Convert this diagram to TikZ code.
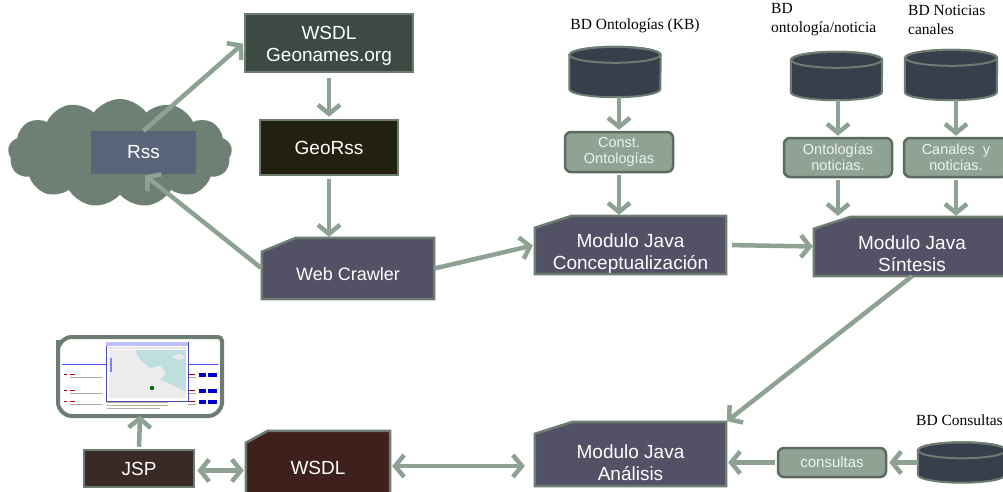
\documentclass[tikz,border=0pt]{standalone}
\usepackage{fontspec}
\setmainfont{Liberation Serif}
\setsansfont{Liberation Sans}
\usetikzlibrary{arrows.meta,shapes.symbols,backgrounds}

\definecolor{arrowc}{HTML}{8EA294}
\definecolor{edgec}{HTML}{6C7C70}
\definecolor{geoc}{HTML}{3D4A44}
\definecolor{georssc}{HTML}{22200F}
\definecolor{rssc}{HTML}{5A6479}
\definecolor{cloudc}{HTML}{6E7F74}
\definecolor{modc}{HTML}{535166}
\definecolor{dbc}{HTML}{363F4B}
\definecolor{procc}{HTML}{8FA394}
\definecolor{procedge}{HTML}{5C6B60}
\definecolor{jspc}{HTML}{3A2A26}
\definecolor{wsdlc}{HTML}{3E211D}
\definecolor{proctext}{HTML}{EEF2EE}

\tikzset{
  boxtext/.style={font=\sffamily\fontsize{19}{22}\selectfont, text=white, align=center},
  plainbox/.style={boxtext, rectangle, draw=edgec, line width=2.5pt, inner sep=0pt},
  modbox/.style={boxtext, rectangle, inner sep=0pt, font=\sffamily\fontsize{19}{22}\selectfont},
  procbox/.style={rectangle, rounded corners=6pt, fill=procc, draw=procedge, line width=2.5pt,
    text=proctext, font=\sffamily\fontsize{14.5}{16}\selectfont, align=center, inner sep=0pt},
  dbase/.style={rectangle, inner sep=0pt},
  dblabel/.style={font=\fontsize{15.5}{19}\selectfont, text=black, align=left, inner sep=0pt},
  arr/.style={draw=arrowc, line width=4.5pt, -{Straight Barb[length=9pt,width=22pt]}},
  darr/.style={draw=arrowc, line width=4.5pt, {Straight Barb[length=9pt,width=22pt]}-{Straight Barb[length=9pt,width=22pt]}},
}

% centred lines moved by #1 while the node keeps their natural size
\newcommand{\shifted}[2]{\raisebox{#1}[\height][\depth]{\begin{tabular}{@{}c@{}}#2\end{tabular}}}

% chamfered module outline drawn behind a named node
\newcommand{\modshape}[4]{% node, fill, dx, dy
  \begin{scope}[on background layer]
    \fill[#2, draw=edgec, line width=2.5pt]
      ([yshift=-#4 pt]#1.north west) -- ([xshift=#3 pt]#1.north west) -- (#1.north east)
      -- (#1.south east) -- (#1.south west) -- cycle;
  \end{scope}}

% database drum drawn behind a named node: node, half width
\newcommand{\drum}[2]{%
  \begin{scope}[on background layer]
    \filldraw[fill=dbc, draw=edgec, line width=2pt]
      ([yshift=-8pt]#1.north west) -- ([yshift=8pt]#1.south west)
      arc[start angle=180, end angle=0, x radius=#2, y radius=8]
      -- ([yshift=-8pt]#1.north east)
      arc[start angle=0, end angle=-180, x radius=#2, y radius=8] -- cycle;
    \draw[draw=edgec, line width=2pt] ([yshift=-8pt]#1.north) ellipse[x radius=#2, y radius=8];
  \end{scope}}

\begin{document}
\begin{tikzpicture}[x=1pt,y=-1pt]
\clip (0,0) rectangle (1003,492);
\begin{scope}[on background layer]
  \fill[white] (0,0) rectangle (1003,492);
\end{scope}

% ---- web sources ----
\node[cloud, cloud puffs=13, cloud puff arc=110, aspect=2.1, fill=cloudc,
      minimum width=224pt, minimum height=108pt, inner sep=0pt] (cloud) at (120,153) {};
\node[boxtext, fill=rssc, minimum width=105pt, minimum height=43pt, inner sep=0pt] (rss) at (143.5,152.5) {Rss};

\node[plainbox, fill=geoc, minimum width=168pt, minimum height=58pt] (geo) at (329,43) {\shifted{-3.5pt}{WSDL\\Geonames.org}};
\node[plainbox, fill=georssc, minimum width=138pt, minimum height=55pt] (georss) at (329,147.5) {GeoRss};

\node[modbox, minimum width=172pt, minimum height=61pt, font=\sffamily\fontsize{18}{21}\selectfont] (crawler) at (348,268.5) {\shifted{-8pt}{Web Crawler}};
\modshape{crawler}{modc}{34}{14}

% ---- processing modules ----
\node[modbox, minimum width=191pt, minimum height=58pt] (conc) at (630.5,245) {\shifted{-9pt}{Modulo Java\\Conceptualización}};
\modshape{conc}{modc}{37}{12}
\node[modbox, minimum width=196pt, minimum height=59pt] (sint) at (912,246.5) {\shifted{-9.5pt}{Modulo Java\\Síntesis}};
\modshape{sint}{modc}{37}{12}
\node[modbox, minimum width=191pt, minimum height=64pt] (anal) at (630.5,454) {\shifted{-11pt}{Modulo Java\\Análisis}};
\modshape{anal}{modc}{38}{12}

% ---- knowledge bases ----
\node[dblabel] (kbl) at (635,26) {BD Ontologías (KB)};
\node[dbase, minimum width=91pt, minimum height=50pt] (cyl1) at (615,72) {};
\drum{cyl1}{45.5}
\node[procbox, minimum width=108pt, minimum height=40pt] (const) at (619,152) {Const.\\Ontologías};

\node[dblabel, anchor=north west] (onl) at (771,3) {BD\\ontología/noticia};
\node[dbase, minimum width=91pt, minimum height=48pt] (cyl2) at (836.5,76) {};
\drum{cyl2}{45.5}
\node[procbox, minimum width=108pt, minimum height=39pt] (ont) at (838,157.5) {Ontologías\\noticias.};

\node[dblabel, anchor=north west] (ncl) at (908,5) {BD Noticias\\canales};
\node[dbase, minimum width=92pt, minimum height=50pt] (cyl3) at (951,75) {};
\drum{cyl3}{46}
\node[procbox, minimum width=104pt, minimum height=39pt] (can) at (956,157.5) {Canales\ \ y\\noticias.};

\node[dblabel, anchor=west] (bdcl) at (916,420) {BD Consultas};
\node[dbase, minimum width=88pt, minimum height=40pt] (cyl4) at (962,462.5) {};
\drum{cyl4}{44}
\node[procbox, minimum width=108pt, minimum height=29pt, font=\sffamily\fontsize{15}{16}\selectfont] (cons) at (832,462.5) {consultas};

% ---- presentation ----
\node[modbox, minimum width=144pt, minimum height=66pt] (wsdl2) at (318,464) {\shifted{-6pt}{WSDL}};
\modshape{wsdl2}{wsdlc}{22}{12}
\node[plainbox, fill=jspc, minimum width=110pt, minimum height=37pt] (jsp) at (139,468.5) {JSP};

\node[minimum width=160pt, minimum height=76pt, inner sep=0pt] (screen) at (140,376.5) {};
\fill[white] (61,340) rectangle (219,413);
\draw[draw=edgec, line width=4pt]
  [rounded corners=14pt] (58,352) -- (58,337)
  [rounded corners=4pt] -- (222,337) -- (222,400)
  [rounded corners=14pt] -- (222,416) -- (58,416)
  [rounded corners=2pt] -- (58,352) -- (58,340);
% screenshot contents
\draw[blue!70!white, line width=0.8pt] (62,364) -- (218,364);
\foreach \yy in {376,392,403}{
  \fill[red!70!black] (64,\yy-2) rectangle (67,\yy-1);
  \fill[red!70!black] (70,\yy-2) rectangle (75,\yy-1);
  \fill[gray!70] (70,\yy+1) rectangle (102,\yy+2);
  \fill[blue!80!black] (199,\yy-3) rectangle (206,\yy+1);
  \fill[blue!80!black] (208,\yy-3) rectangle (217,\yy+1);
  \fill[red!70!black] (188,\yy-2) rectangle (195,\yy-1);
  \fill[gray!70] (188,\yy+1) rectangle (196,\yy+2);
}
\fill[gray!60] (107,402) rectangle (168,403);
\fill[gray!60] (107,405) rectangle (168,406);
\fill[gray!60] (107,408) rectangle (160,409);
\fill[white, draw=blue!40!gray, line width=0.6pt] (106,342) rectangle (188,401);
\fill[blue!25!white] (106,342) rectangle (188,346);
\fill[gray!20] (108,347) rectangle (186,349);
\fill[teal!25!white] (109,350) rectangle (186,398);
\fill[gray!15] (109,350) -- (135,350) -- (140,360) -- (150,368) -- (160,366)
  -- (166,372) -- (160,380) -- (170,384) -- (186,392) -- (186,398) -- (109,398) -- cycle;
\fill[gray!15] (172,356) -- (180,354) -- (186,358) -- (178,360) -- cycle;
\fill[green!40!black] (152,388) circle (2.2pt);
\fill[blue!50!white] (110,358) rectangle (112,372);

% ---- connectors ----
\draw[arr, shorten >=1pt] (rss.north) -- (geo.west);
\draw[arr, shorten <=1pt, shorten >=2pt] (crawler.west) -- (rss.south);
\draw[arr, shorten <=5pt, shorten >=2pt] (geo.south) -- (georss.north);
\draw[arr, shorten <=3pt, shorten >=1pt] (georss.south) -- (georss.south |- crawler.north);
\draw[arr, shorten >=2pt] (crawler.east) -- (conc.west);
\draw[arr, shorten <=6pt, shorten >=1pt] (conc.east) -- (sint.west);

\draw[arr, shorten >=1pt] (const.north |- cyl1.south) -- (const.north);
\draw[arr, shorten <=2pt, shorten >=1pt] (const.south) -- (const.south |- conc.north);
\draw[arr, shorten >=1pt] (ont.north |- cyl2.south) -- (ont.north);
\draw[arr, shorten <=2pt, shorten >=1pt] (ont.south) -- (ont.south |- sint.north);
\draw[arr, shorten >=1pt] (can.north |- cyl3.south) -- (can.north);
\draw[arr, shorten <=2pt, shorten >=1pt] (can.south) -- (can.south |- sint.north);

\draw[arr, shorten >=1pt] (sint.south) -- (anal.north east);
\draw[arr, shorten >=2pt] (cyl4.west) -- (cons.east);
\draw[arr, shorten <=2pt, shorten >=2pt] (cons.west) -- (cons.west -| anal.east);
\draw[darr, shorten <=2pt, shorten >=10pt] ([yshift=-2pt]wsdl2.east) -- ([yshift=-2pt]wsdl2.east -| anal.west);
\draw[darr, shorten <=2pt, shorten >=2pt] ([yshift=-2pt]jsp.east) -- ([yshift=-2pt]jsp.east -| wsdl2.west);
\draw[arr, shorten <=2pt, shorten >=1pt] (jsp.north) -- (screen.south);
\end{tikzpicture}
\end{document}
